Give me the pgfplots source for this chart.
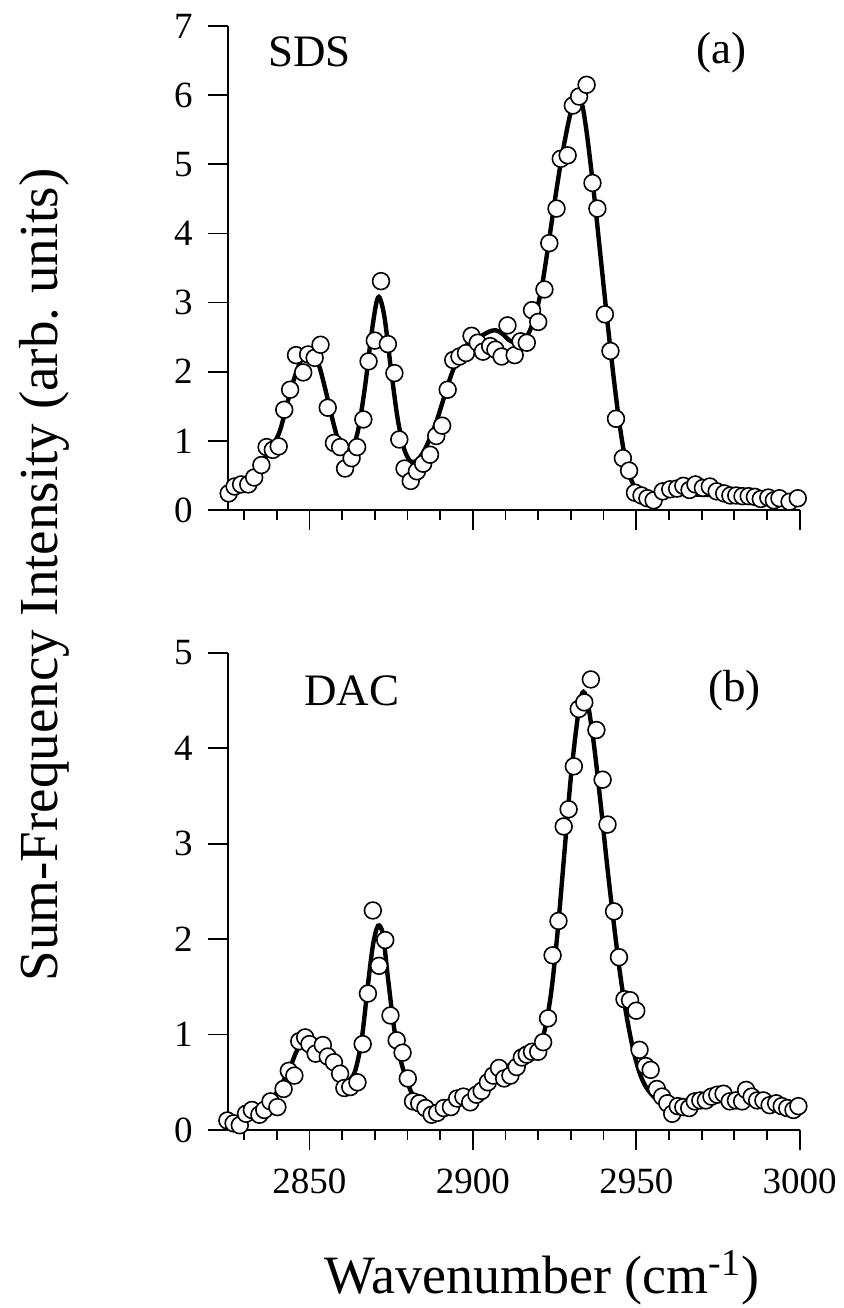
\documentclass[border=0pt]{standalone}
\usepackage{fontspec}
\setmainfont{Liberation Serif}
\usepackage{pgfplots}
\pgfplotsset{compat=1.18}

\pgfplotsset{
  panel/.style={
    scale only axis, width=286pt,
    xmin=2825, xmax=3000,
    axis x line*=bottom, axis y line*=left,
    axis line style={line width=1pt,-},
    xtick align=outside, ytick align=outside,
    xtick={2850,2900,2950,3000},
    minor xtick={2830,2840,2860,2870,2880,2890,2910,2920,2930,2940,2960,2970,2980,2990},
    major tick length=10pt, minor tick length=5pt,
    tick style={black,line width=0.9pt},
    tick label style={font=\fontsize{18.5}{18.5}\selectfont},
    x tick label style={yshift=-6pt},
    y tick label style={xshift=-4pt},
    /pgf/number format/assume math mode=true,
    /pgf/number format/1000 sep={},
    clip=false,
  },
  fit/.style={black, line width=2.2pt, smooth, no marks},
  data/.style={only marks, mark=*, mark size=4.2pt,
    mark options={fill=white, draw=black, line width=0.8pt}},
}

\begin{document}
\begin{tikzpicture}
\useasboundingbox (0,0) rectangle (421.5pt,-654pt);

% (a) SDS
\begin{axis}[panel, at={(113.85pt,-255pt)}, anchor=south west,
  height=242pt, ymin=0, ymax=7, ytick={0,1,2,3,4,5,6,7},
  xticklabels={}]
\draw[line width=1pt] (rel axis cs:0,0) -- ([xshift=-10pt]rel axis cs:0,0);
\addplot[fit] coordinates {
  (2826,0.30) (2830,0.38) (2833,0.50) (2836,0.72) (2839,0.95) (2841,1.15)
  (2843,1.50) (2845,1.85) (2847,2.12) (2849,2.28) (2851,2.26) (2853,2.08)
  (2855,1.72) (2857,1.32) (2859,0.98) (2861,0.80) (2863,0.86) (2865,1.18)
  (2867,1.78) (2869,2.55) (2870.5,3.00) (2871.5,3.07) (2873,2.78) (2875,2.02)
  (2877,1.32) (2879,0.88) (2881,0.70) (2883,0.72) (2885,0.85) (2887,1.05)
  (2889,1.30) (2891,1.60) (2893,1.90) (2895,2.15) (2897,2.32) (2899,2.42)
  (2901,2.48) (2903,2.53) (2905,2.58) (2907,2.60) (2909,2.55) (2911,2.46)
  (2913,2.42) (2915,2.45) (2917,2.55) (2919,2.80) (2921,3.20) (2923,3.80)
  (2925,4.45) (2927,5.05) (2929,5.55) (2930.5,5.85) (2932,5.95) (2933.5,5.85)
  (2935,5.40) (2937,4.60) (2939,3.70) (2941,2.80) (2943,1.95) (2945,1.20)
  (2947,0.65) (2949,0.38) (2951,0.27) (2953,0.25) (2955,0.24) (2960,0.24)
  (2965,0.23) (2970,0.22) (2980,0.21) (2990,0.20) (3000,0.19)
};
\addplot[data] coordinates {
  (2825.3,0.24) (2827.1,0.34) (2829.1,0.37) (2831.3,0.37) (2833.1,0.47)
  (2835.3,0.65) (2836.9,0.91) (2838.8,0.87) (2840.6,0.92) (2842.3,1.45)
  (2844.1,1.74) (2845.9,2.24) (2848.1,1.99) (2849.6,2.25) (2851.6,2.20)
  (2853.4,2.39) (2855.6,1.48) (2857.5,0.97) (2859.4,0.91) (2860.9,0.60)
  (2862.9,0.75) (2864.6,0.91) (2866.5,1.31) (2868.1,2.15) (2870.0,2.45)
  (2871.9,3.31) (2874.0,2.40) (2876.0,1.98) (2877.5,1.02) (2879.1,0.60)
  (2881.0,0.42) (2882.9,0.56) (2884.8,0.67) (2886.9,0.80) (2888.8,1.07)
  (2890.6,1.22) (2892.3,1.74) (2894.0,2.17) (2895.9,2.22) (2897.9,2.27)
  (2899.6,2.52) (2901.5,2.42) (2903.1,2.29) (2905.3,2.37) (2906.9,2.32)
  (2908.8,2.22) (2910.6,2.67) (2912.8,2.24) (2914.6,2.44) (2916.5,2.42)
  (2918.1,2.89) (2920.0,2.72) (2921.9,3.19) (2923.4,3.86) (2925.6,4.36)
  (2926.9,5.08) (2929.0,5.13) (2930.6,5.85) (2932.5,5.98) (2934.8,6.15)
  (2936.6,4.73) (2938.1,4.36) (2940.4,2.83) (2942.1,2.30) (2943.8,1.32)
  (2945.9,0.75) (2947.8,0.57) (2949.6,0.25) (2951.6,0.21) (2953.4,0.17)
  (2955.3,0.14) (2958.1,0.27) (2960.4,0.30) (2962.5,0.31) (2964.4,0.35)
  (2966.3,0.29) (2968.1,0.37) (2970.4,0.32) (2972.5,0.34) (2974.6,0.27)
  (2976.9,0.24) (2978.8,0.21) (2980.6,0.21) (2982.5,0.20) (2984.4,0.20)
  (2986.3,0.19) (2988.1,0.16) (2990.4,0.18) (2992.1,0.14) (2993.8,0.17)
  (2996.9,0.12) (2999.4,0.17)
};
\node[font=\fontsize{22.5}{22.5}\selectfont] at (axis cs:2850,6.62) {SDS};
\node[font=\fontsize{22.5}{22.5}\selectfont] at (axis cs:2976,6.62) {(a)};
\end{axis}

% (b) DAC
\begin{axis}[panel, at={(113.85pt,-565pt)}, anchor=south west,
  height=238.65pt, ymin=0, ymax=5, ytick={0,1,2,3,4,5}]
\draw[line width=1pt] (rel axis cs:0,0) -- ([xshift=-10pt]rel axis cs:0,0);
\addplot[fit] coordinates {
  (2826,0.08) (2830,0.13) (2834,0.20) (2838,0.30) (2841,0.45) (2844,0.65)
  (2846,0.82) (2848,0.92) (2850,0.88) (2852,0.80) (2855,0.72) (2858,0.62)
  (2860,0.55) (2862,0.52) (2864,0.62) (2866,0.95) (2868,1.55) (2869.5,1.95)
  (2871,2.14) (2872.5,2.05) (2874,1.60) (2876,1.05) (2878,0.72) (2880,0.50)
  (2882,0.34) (2885,0.24) (2888,0.20) (2891,0.21) (2894,0.27) (2897,0.34)
  (2900,0.40) (2903,0.47) (2906,0.55) (2909,0.63) (2912,0.70) (2915,0.76)
  (2918,0.82) (2920,0.88) (2922,1.05) (2924,1.45) (2926,2.10) (2928,2.90)
  (2930,3.70) (2932,4.30) (2933.5,4.58) (2935,4.50) (2937,4.05) (2939,3.45)
  (2941,2.80) (2943,2.20) (2945,1.65) (2947,1.20) (2949,0.85) (2951,0.60)
  (2953,0.45) (2956,0.33) (2960,0.28) (2965,0.27) (2970,0.29) (2975,0.31)
  (2980,0.32) (2985,0.32) (2990,0.30) (2995,0.27) (3000,0.25)
};
\addplot[data] coordinates {
  (2824.9,0.10) (2826.8,0.07) (2828.7,0.05) (2830.6,0.17) (2832.4,0.21)
  (2834.7,0.16) (2836.2,0.21) (2838.1,0.30) (2840.2,0.24) (2842.1,0.43)
  (2843.7,0.62) (2845.4,0.57) (2846.9,0.93) (2848.7,0.97) (2850.0,0.90)
  (2851.9,0.80) (2854.1,0.89) (2855.6,0.77) (2857.5,0.71) (2859.4,0.59)
  (2860.7,0.44) (2862.5,0.45) (2864.7,0.50) (2866.3,0.90) (2867.9,1.43)
  (2869.4,2.30) (2871.3,1.72) (2873.2,1.99) (2874.8,1.20) (2876.7,0.94)
  (2878.5,0.81) (2880.1,0.54) (2881.7,0.30) (2883.6,0.28) (2885.5,0.23)
  (2887.4,0.16) (2889.1,0.18) (2891.1,0.23) (2893.3,0.24) (2895.2,0.33)
  (2897.1,0.35) (2899.2,0.29) (2901.1,0.37) (2902.7,0.41) (2904.6,0.50)
  (2906.2,0.57) (2908.0,0.65) (2909.6,0.54) (2911.5,0.57) (2913.4,0.66)
  (2915.0,0.76) (2916.5,0.79) (2918.1,0.82) (2920.0,0.82) (2921.5,0.92)
  (2923.0,1.17) (2924.4,1.83) (2926.2,2.19) (2927.8,3.18) (2929.3,3.36)
  (2930.9,3.81) (2932.4,4.41) (2934.1,4.48) (2936.1,4.72) (2937.8,4.19)
  (2939.7,3.67) (2941.2,3.20) (2943.2,2.29) (2944.7,1.81) (2946.4,1.37)
  (2948.1,1.36) (2950.0,1.25) (2951.0,0.84) (2952.9,0.67) (2954.4,0.63)
  (2956.3,0.43) (2957.9,0.35) (2959.5,0.28) (2961.0,0.17) (2962.7,0.25)
  (2964.4,0.24) (2966.2,0.23) (2967.9,0.30) (2969.6,0.31) (2971.3,0.31)
  (2973.0,0.35) (2974.8,0.37) (2976.7,0.38) (2978.6,0.30) (2980.5,0.31)
  (2982.4,0.30) (2983.6,0.42) (2985.3,0.35) (2987.0,0.31) (2988.9,0.31)
  (2990.8,0.26) (2992.8,0.28) (2994.5,0.25) (2996.2,0.23) (2998.1,0.21)
  (2999.6,0.25)
};
\node[font=\fontsize{22.5}{22.5}\selectfont] at (axis cs:2863,4.6) {DAC};
\node[font=\fontsize{22.5}{22.5}\selectfont] at (axis cs:2980,4.6) {(b)};
\end{axis}

\node[rotate=90, font=\fontsize{27.5}{27.5}\selectfont] at (22pt,-287.5pt)
  {Sum-Frequency Intensity (arb.\ units)};
\node[font=\fontsize{27}{27}\selectfont] at (271pt,-639pt)
  {Wavenumber (cm\textsuperscript{-1})};
\end{tikzpicture}
\end{document}
